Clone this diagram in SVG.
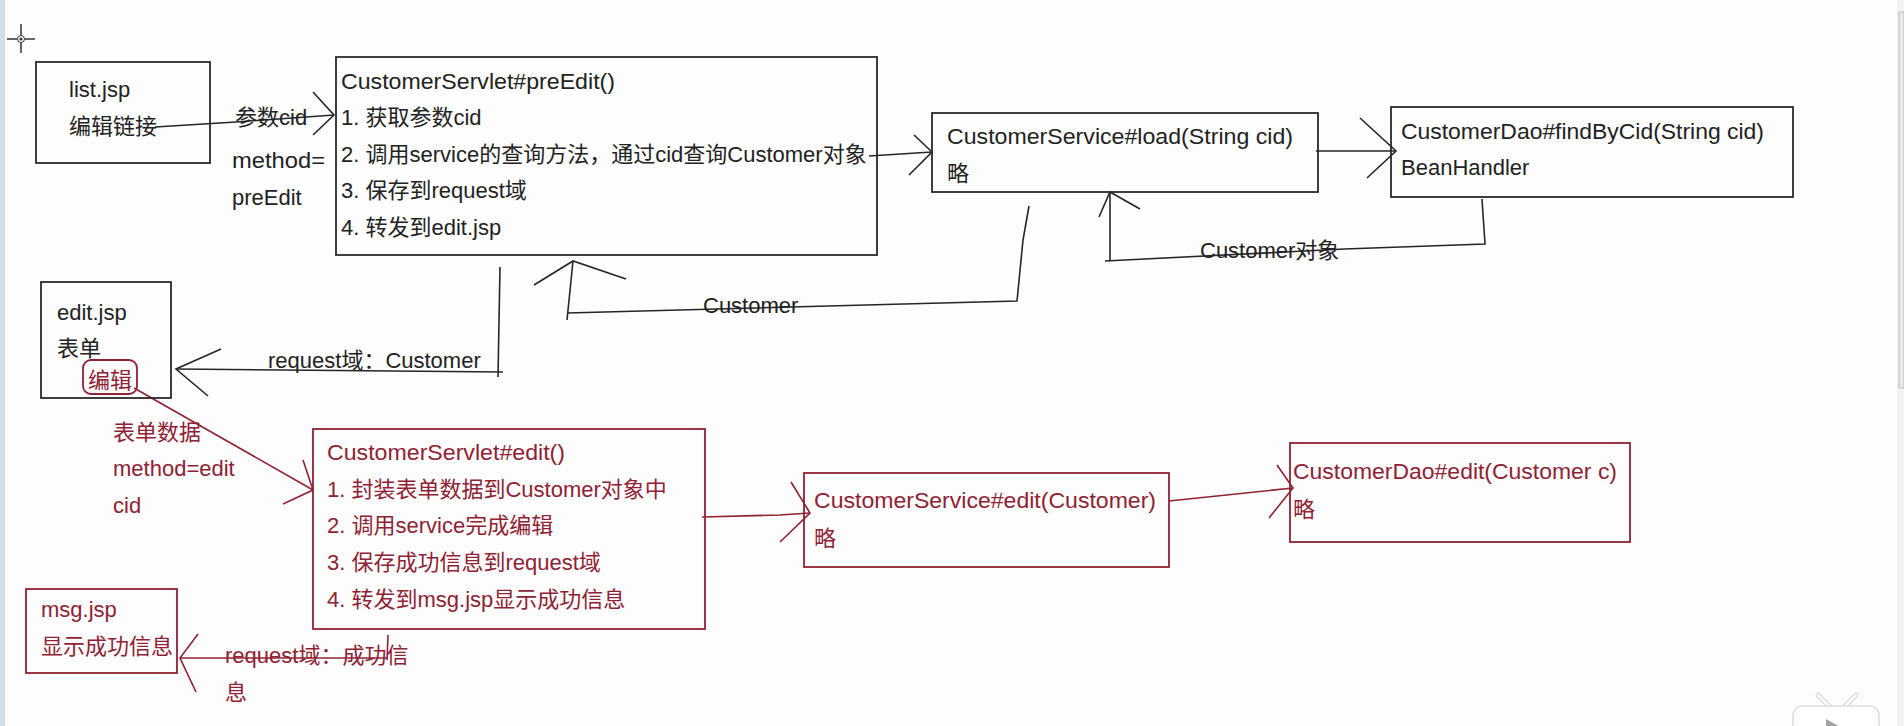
<svg xmlns="http://www.w3.org/2000/svg" width="1904" height="726" viewBox="0 0 1904 726">
<style>
.bk{fill:none;stroke:#262626;stroke-width:1.6}
.rd{fill:none;stroke:#8f2234;stroke-width:1.6}
.bx{fill:none;stroke:#2a2a2a;stroke-width:1.8}
.rbx{fill:none;stroke:#8f2234;stroke-width:1.8}
.tb{font-family:"Liberation Sans","Noto Sans CJK SC",sans-serif;font-size:22px;fill:#222}
.tr{font-family:"Liberation Sans","Noto Sans CJK SC",sans-serif;font-size:22px;fill:#8f2234}
</style>
<rect width="1904" height="726" fill="#fdfdfd"/>
<rect x="0" y="0" width="5" height="726" fill="#d6dce6"/>
<rect x="1897" y="0" width="7" height="726" fill="#f2f2f2"/>
<rect x="1899" y="12" width="5" height="376" fill="#e8e8e8" stroke="#bdbdbd" stroke-width="1"/>
<g id="cursor" fill="none" stroke="#333" stroke-width="1.5">
<path d="M7,39 H17 M25,39 H35 M21,24 V35 M21,43 V53"/>
<circle cx="21" cy="39" r="3.5" stroke-width="1"/>
<circle cx="21" cy="39" r="0.8" fill="#333"/>
</g>
<g id="tv-icon">
<path d="M1818,695 L1829,706 M1856,695 L1845,706" stroke="#d8d8d8" stroke-width="5" stroke-linecap="round"/>
<path d="M1818,695 L1829,706 M1856,695 L1845,706" stroke="#ffffff" stroke-width="2.5" stroke-linecap="round"/>
<rect x="1793" y="706" width="86" height="34" rx="9" fill="#ffffff" stroke="#dcdcdc" stroke-width="1.5"/>
<polygon points="1826,719 1846,730 1826,741" fill="#a3a3a3"/>
</g>

<g id="connectors">
<!-- list.jsp -> preEdit -->
<path class="bk" d="M155,127 L236,122 L334,115"/>
<path class="bk" d="M313,92 L334,115 L313,135"/>
<!-- preEdit -> load -->
<path class="bk" d="M869,156 L932,152"/>
<path class="bk" d="M914,135 L932,152 L909,175"/>
<!-- load -> dao -->
<path class="bk" d="M1316,151 L1396,151"/>
<path class="bk" d="M1360,118 L1396,151 L1367,178"/>
<!-- dao -> load : Customer对象 -->
<path class="bk" d="M1482,199 L1485,244 L1344,249 L1105,261"/>
<path class="bk" d="M1110,261 L1110,192"/>
<path class="bk" d="M1099,217 L1110,192 L1140,209"/>
<!-- load -> preEdit : Customer -->
<path class="bk" d="M1029,206 L1023,240 L1017,301 L567,313"/>
<path class="bk" d="M573,261 L567,320"/>
<path class="bk" d="M534,285 L573,261 L626,279"/>
<!-- preEdit -> edit.jsp : request域 -->
<path class="bk" d="M500,267 L498,377"/>
<path class="bk" d="M503,372 L176,369"/>
<path class="bk" d="M221,349 L176,369 L208,396"/>
<!-- 编辑 -> edit() -->
<path class="rd" d="M134,388 L313,490"/>
<path class="rd" d="M303,460 L313,490 L283,504"/>
<!-- edit() -> service edit -->
<path class="rd" d="M702,517 L780,515 L810,513"/>
<path class="rd" d="M791,482 L810,513 L780,542"/>
<!-- service edit -> dao edit -->
<path class="rd" d="M1169,501 L1293,488"/>
<path class="rd" d="M1277,465 L1293,488 L1269,518"/>
<!-- edit() -> msg.jsp -->
<path class="rd" d="M388,635 L387,660"/>
<path class="rd" d="M388,658 L180,658"/>
<path class="rd" d="M198,634 L180,658 L196,692"/>
<!-- labels -->
<text class="tb" x="235" y="125">参数cid</text>
<text class="tb" x="232" y="168" textLength="93" lengthAdjust="spacingAndGlyphs">method=</text>
<text class="tb" x="232" y="205">preEdit</text>
<text class="tb" x="1200" y="258">Customer对象</text>
<text class="tb" x="703" y="313">Customer</text>
<text class="tb" x="268" y="368">request域：Customer</text>
<text class="tr" x="113" y="440">表单数据</text>
<text class="tr" x="113" y="476">method=edit</text>
<text class="tr" x="113" y="513">cid</text>
<text class="tr" x="225" y="663">request域：成功信</text>
<text class="tr" x="225" y="700">息</text>
</g>

<g id="list-jsp">
<rect class="bx" x="36" y="62" width="174" height="101"/>
<text class="tb" x="69" y="97">list.jsp</text>
<text class="tb" x="69" y="134">编辑链接</text>
</g>
<g id="servlet-preEdit">
<rect class="bx" x="336" y="57" width="541" height="198"/>
<text class="tb" x="341" y="89" textLength="274" lengthAdjust="spacingAndGlyphs">CustomerServlet#preEdit()</text>
<text class="tb" x="341" y="125">1. 获取参数cid</text>
<text class="tb" x="341" y="162">2. 调用service的查询方法，通过cid查询Customer对象</text>
<text class="tb" x="341" y="198">3. 保存到request域</text>
<text class="tb" x="341" y="235">4. 转发到edit.jsp</text>
</g>
<g id="service-load">
<rect class="bx" x="932" y="113" width="386" height="79"/>
<text class="tb" x="947" y="144" textLength="346" lengthAdjust="spacingAndGlyphs">CustomerService#load(String cid)</text>
<text class="tb" x="947" y="181">略</text>
</g>
<g id="dao-findByCid">
<rect class="bx" x="1391" y="107" width="402" height="90"/>
<text class="tb" x="1401" y="139" textLength="363" lengthAdjust="spacingAndGlyphs">CustomerDao#findByCid(String cid)</text>
<text class="tb" x="1401" y="175">BeanHandler</text>
</g>
<g id="edit-jsp">
<rect class="bx" x="41" y="282" width="130" height="116"/>
<text class="tb" x="57" y="320">edit.jsp</text>
<text class="tb" x="57" y="356">表单</text>
<rect class="rbx" x="83" y="360" width="54" height="34" rx="8" stroke-width="1.4"/>
<text class="tr" x="88" y="388">编辑</text>
</g>
<g id="servlet-edit">
<rect class="rbx" x="313" y="429" width="392" height="200"/>
<text class="tr" x="327" y="460" textLength="238" lengthAdjust="spacingAndGlyphs">CustomerServlet#edit()</text>
<text class="tr" x="327" y="497">1. 封装表单数据到Customer对象中</text>
<text class="tr" x="327" y="533">2. 调用service完成编辑</text>
<text class="tr" x="327" y="570">3. 保存成功信息到request域</text>
<text class="tr" x="327" y="607">4. 转发到msg.jsp显示成功信息</text>
</g>
<g id="service-edit">
<rect class="rbx" x="804" y="473" width="365" height="94"/>
<text class="tr" x="814" y="508" textLength="342" lengthAdjust="spacingAndGlyphs">CustomerService#edit(Customer)</text>
<text class="tr" x="814" y="546">略</text>
</g>
<g id="dao-edit">
<rect class="rbx" x="1290" y="443" width="340" height="99"/>
<text class="tr" x="1293" y="479" textLength="324" lengthAdjust="spacingAndGlyphs">CustomerDao#edit(Customer c)</text>
<text class="tr" x="1293" y="517">略</text>
</g>
<g id="msg-jsp">
<rect class="rbx" x="26" y="589" width="151" height="84"/>
<text class="tr" x="41" y="617">msg.jsp</text>
<text class="tr" x="41" y="654">显示成功信息</text>
</g>
</svg>
